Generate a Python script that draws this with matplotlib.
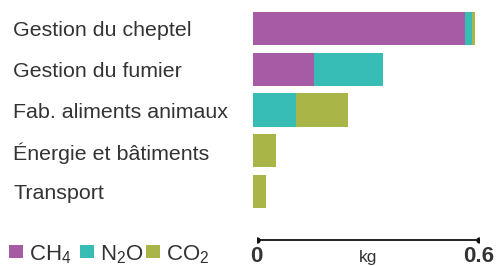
import matplotlib
matplotlib.use('Agg')
import matplotlib.pyplot as plt
from matplotlib.patches import Rectangle

plt.rcParams['font.family'] = ['Liberation Sans', 'DejaVu Sans']
plt.rcParams['mathtext.fontset'] = 'custom'
plt.rcParams['mathtext.rm'] = 'Liberation Sans'
plt.rcParams['mathtext.default'] = 'regular'

# donnees (kg)
categories = ['Gestion du cheptel', 'Gestion du fumier', 'Fab. aliments animaux',
              'Énergie et bâtiments', 'Transport']
ch4 = [0.573, 0.165, 0.0, 0.0, 0.0]
n2o = [0.018, 0.186, 0.116, 0.0, 0.0]
co2 = [0.009, 0.0, 0.141, 0.062, 0.035]
gas_labels = ['CH$_4$', 'N$_2$O', 'CO$_2$']
scale_ticks = [0, 0.6]

colors = ['#a65ca5', '#37bdb5', '#a9b546']
text_color = '#333333'

W, H = 501, 266
fig = plt.figure(figsize=(W / 100, H / 100), dpi=100)

# axe principal, place en pixels
ax = fig.add_axes([253 / W, (H - 212) / H, 222 / W, 204 / H])
ypos = list(range(len(categories)))
left = [0] * len(categories)
for vals, c in zip([ch4, n2o, co2], colors):
    ax.barh(ypos, vals, left=left, height=0.81, color=c, linewidth=0)
    left = [l + v for l, v in zip(left, vals)]
ax.set_xlim(0, 0.6)
ax.set_ylim(len(categories) - 0.5, -0.5)
ax.set_xticks([])
ax.set_yticks(ypos)
ax.set_yticklabels(categories, fontsize=15.4, color=text_color)
for t in ax.get_yticklabels():
    t.set_horizontalalignment('left')
ax.tick_params(axis='y', length=0, pad=240 * 0.72)
for s in ax.spines.values():
    s.set_visible(False)

# echelle
sx = fig.add_axes([256.7 / W, 0, 222 / W, 60 / H])
sx.set_xlim(0, 0.6)
sx.set_ylim(0, 60)
sx.plot(scale_ticks, [26, 26], color='#111111', lw=1.3, marker='o', ms=3.5)
sx.text(scale_ticks[0], 4, '0', ha='center', va='baseline', fontsize=16,
        fontweight='bold', color=text_color)
sx.text(scale_ticks[1], 4, '0.6', ha='center', va='baseline', fontsize=16,
        fontweight='bold', color=text_color)
sx.text(sum(scale_ticks) / 2, 4, 'kg', ha='center', va='baseline', fontsize=12.5,
        color=text_color)
sx.axis('off')

# legende
sq_x = [9, 80, 146]
for x, c, lab in zip(sq_x, colors, gas_labels):
    fig.patches.append(Rectangle((x / W, (H - 258) / H), 13.5 / W, 13.5 / H,
                                 transform=fig.transFigure, color=c, lw=0))
    fig.text((x + 20) / W, (H - 260) / H, lab, fontsize=16, color=text_color,
             va='baseline', ha='left')

fig.savefig('out.png', dpi=100)
